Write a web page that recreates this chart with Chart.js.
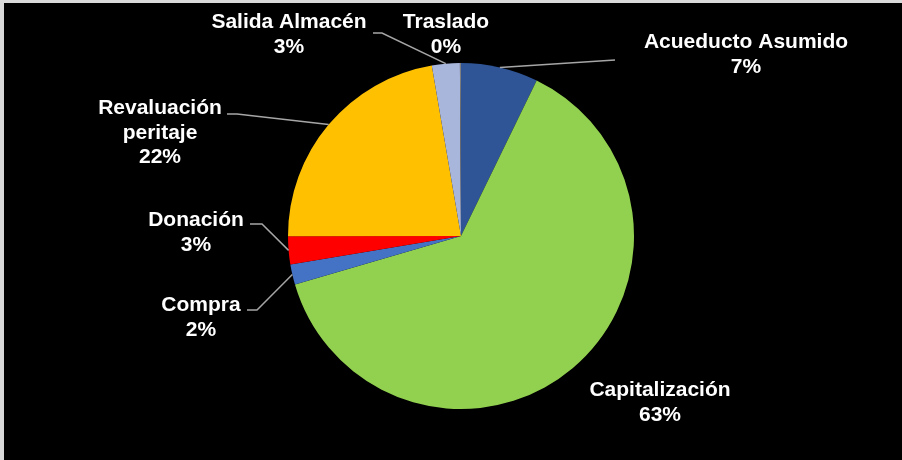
<!DOCTYPE html>
<html lang="es">
  <head>
    <meta charset="UTF-8" />
    <title>Distribución</title>
    <style>
      html, body { margin: 0; padding: 0; background: #000; }
    </style>
  </head>
  <body>
    <canvas id="my-chart" width="902" height="460"></canvas>

    <script src="https://cdn.jsdelivr.net/npm/chart.js"></script>
    <script>
      const categories = [
        "Acueducto Asumido",
        "Capitalización",
        "Compra",
        "Donación",
        "Revaluación\nperitaje",
        "Salida Almacén",
        "Traslado",
      ];
      const shares = [7.2, 63.2, 1.9, 2.6, 22.3, 2.6, 0.1];
      const sliceColors = [
        "#2F5597",
        "#92D050",
        "#4472C4",
        "#FF0000",
        "#FFC000",
        "#A9B6DC",
        "#7F7F7F",
      ];

      // where each label sits (text centre x, first baseline) and its leader line
      const labelSpots = [
        { x: 746, y: 48, leader: [[615, 60]] },
        { x: 660, y: 396, leader: null },
        { x: 201, y: 311, leader: [[257, 310], [247, 310]] },
        { x: 196, y: 226, leader: [[262, 224], [250, 224]] },
        { x: 160, y: 114, leader: [[237, 114], [227, 114]] },
        { x: 289, y: 28, leader: [[382, 33], [373, 33]] },
        { x: 446, y: 28, leader: null },
      ];

      const total = shares.reduce((a, b) => a + b, 0);

      const backgroundPlugin = {
        id: "bg",
        beforeDraw(chart) {
          const ctx = chart.ctx;
          ctx.save();
          ctx.fillStyle = "#000";
          ctx.fillRect(0, 0, chart.width, chart.height);
          ctx.fillStyle = "#d9d9d9";
          ctx.fillRect(0, 0, chart.width, 3);
          ctx.fillRect(0, 0, 4, chart.height);
          ctx.restore();
        },
      };

      const labelPlugin = {
        id: "outsideLabels",
        afterDatasetsDraw(chart) {
          const ctx = chart.ctx;
          const arcs = chart.getDatasetMeta(0).data;
          ctx.save();
          arcs.forEach((arc, i) => {
            const spot = labelSpots[i];
            const mid = (arc.startAngle + arc.endAngle) / 2;
            const ax = arc.x + Math.cos(mid) * arc.outerRadius;
            const ay = arc.y + Math.sin(mid) * arc.outerRadius;

            if (spot.leader) {
              ctx.strokeStyle = "#a6a6a6";
              ctx.lineWidth = 1.5;
              ctx.beginPath();
              ctx.moveTo(ax, ay);
              spot.leader.forEach((p) => ctx.lineTo(p[0], p[1]));
              ctx.stroke();
            }

            const lines = categories[i].split("\n");
            lines.push(Math.round((shares[i] / total) * 100) + "%");
            ctx.fillStyle = "#fff";
            ctx.font = "bold 21px 'Liberation Sans', Arial, sans-serif";
            ctx.textAlign = "center";
            ctx.textBaseline = "alphabetic";
            lines.forEach((t, k) => {
              ctx.fillText(t, spot.x, spot.y + k * 24.5);
            });
          });
          ctx.restore();
        },
      };

      const chartEle = document.getElementById("my-chart").getContext("2d");

      const chart = new Chart(chartEle, {
        type: "pie",
        data: {
          labels: categories,
          datasets: [
            {
              data: shares,
              backgroundColor: sliceColors,
              borderWidth: 0,
            },
          ],
        },
        options: {
          responsive: false,
          animation: false,
          layout: {
            padding: { top: 63, bottom: 51, left: 20, right: 0 },
          },
          plugins: {
            legend: { display: false },
            tooltip: { enabled: false },
          },
        },
        plugins: [backgroundPlugin, labelPlugin],
      });
    </script>
  </body>
</html>
